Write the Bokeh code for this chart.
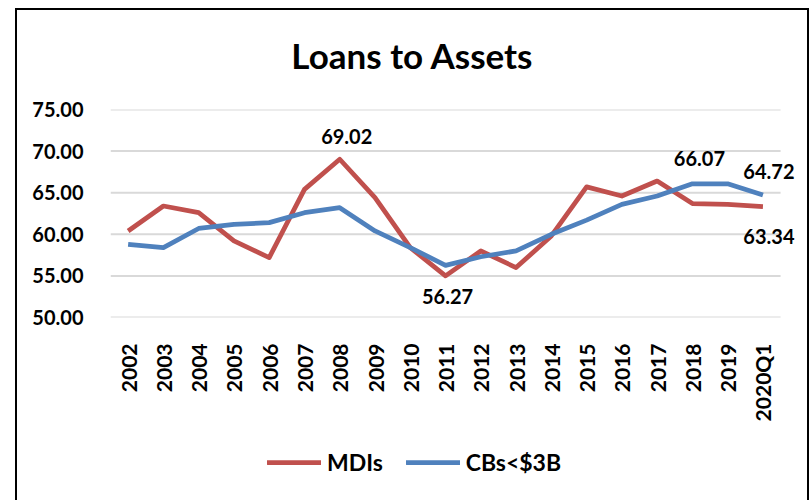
from bokeh.plotting import figure
from bokeh.layouts import column
from bokeh.models import (Range1d, Legend, LegendItem, LabelSet, Label, ColumnDataSource,
                          NumeralTickFormatter, FixedTicker)
from bokeh.core.properties import value
from bokeh.embed import file_html
from bokeh.resources import INLINE
import math

title_text = "Loans to Assets"
years = ["2002", "2003", "2004", "2005", "2006", "2007", "2008", "2009", "2010", "2011",
         "2012", "2013", "2014", "2015", "2016", "2017", "2018", "2019", "2020Q1"]
mdis = [60.4, 63.4, 62.6, 59.2, 57.2, 65.4, 69.02, 64.4, 58.4, 55.0,
        58.0, 56.0, 59.8, 65.7, 64.6, 66.4, 63.7, 63.6, 63.34]
cbs = [58.8, 58.4, 60.7, 61.2, 61.4, 62.6, 63.2, 60.4, 58.4, 56.27,
       57.3, 58.0, 60.0, 61.7, 63.6, 64.6, 66.07, 66.07, 64.72]
y_ticks = [50, 55, 60, 65, 70, 75]

RED = "#C0504D"
BLUE = "#4F81BD"
FONT = "Lato"

xs = list(range(len(years)))


def blank(fig):
    fig.outline_line_color = None
    fig.xgrid.grid_line_color = None
    fig.ygrid.grid_line_color = None


# title strip
p0 = figure(x_range=Range1d(0, 693), y_range=Range1d(0, 60),
            width=790, height=60, output_backend="svg", toolbar_location=None,
            x_axis_type=None, y_axis_type=None,
            min_border_left=93, min_border_right=4, min_border_top=0, min_border_bottom=0)
blank(p0)
p0.add_layout(Label(x=302, y=15.5, text=title_text, text_align="center", text_baseline="middle",
                    text_font=FONT, text_font_style="bold", text_font_size="35px",
                    text_color="black"))

# main chart
p = figure(x_range=Range1d(-0.5, len(years) + 0.15), y_range=Range1d(y_ticks[0], y_ticks[-1]),
           width=790, height=370, output_backend="svg", toolbar_location=None,
           min_border_left=93, min_border_right=4, min_border_top=39, min_border_bottom=123)
blank(p)
# horizontal gridlines spanning only the category area
p.segment(x0=[-0.5] * len(y_ticks), x1=[len(years) - 0.5] * len(y_ticks), y0=y_ticks, y1=y_ticks,
          line_color="#D9D9D9", line_width=2)

p.yaxis.ticker = FixedTicker(ticks=y_ticks)
p.yaxis.formatter = NumeralTickFormatter(format="0.00")
p.xaxis.ticker = FixedTicker(ticks=xs)
p.xaxis.major_label_overrides = {i: y for i, y in zip(xs, years)}
for ax in (p.xaxis, p.yaxis):
    ax.axis_line_color = None
    ax.major_tick_line_color = None
    ax.minor_tick_line_color = None
    ax.major_label_text_font = FONT
    ax.major_label_text_font_style = "bold"
    ax.major_label_text_color = "black"
p.yaxis.major_label_text_font_size = "20px"
p.xaxis.major_label_text_font_size = "21px"
p.yaxis.major_label_standoff = 21
p.xaxis.major_label_orientation = math.pi / 2
p.xaxis.major_label_standoff = 20

p.line(xs, mdis, line_color=RED, line_width=4.75, line_join="round")
p.line(xs, cbs, line_color=BLUE, line_width=4.75, line_join="round")

lab_x = [xs[6], xs[9], xs[16], xs[18], xs[18]]
lab_y = [mdis[6], cbs[9], cbs[16], cbs[18], mdis[18]]
lab_t = [f"{v:.2f}" for v in lab_y]
lab_dy = [23, -31, 25, 24, -30]
lab_dx = [7, 2, 7, 6, 6]
src = ColumnDataSource(dict(x=lab_x, y=lab_y, t=lab_t, dy=lab_dy, dx=lab_dx))
labels = LabelSet(x="x", y="y", text="t", source=src, y_offset="dy", x_offset="dx",
                  text_align="center", text_baseline="middle",
                  text_font=value(FONT), text_font_style="bold", text_font_size="20px",
                  text_color="black")
p.add_layout(labels)

# legend strip below the chart
p2 = figure(x_range=Range1d(-0.5, len(years) + 0.15), y_range=Range1d(0, 1),
            width=790, height=60, output_backend="svg", toolbar_location=None,
            x_axis_type=None, y_axis_type=None,
            min_border_left=93, min_border_right=4, min_border_top=0, min_border_bottom=0)
blank(p2)
l1 = p2.line(xs, mdis, line_color=RED, line_width=4.75, line_cap="round")
l2 = p2.line(xs, cbs, line_color=BLUE, line_width=4.75, line_cap="round")

legend = Legend(items=[LegendItem(label="MDIs", renderers=[l1]),
                       LegendItem(label="CBs<$3B", renderers=[l2])],
                orientation="horizontal", location=(157, 24),
                label_text_font=FONT, label_text_font_style="bold", label_text_font_size="23px",
                label_text_color="black",
                glyph_width=54, glyph_height=20, label_height=20, label_standoff=6, spacing=23,
                border_line_color=None, background_fill_alpha=0, margin=0, padding=0)
p2.add_layout(legend)

layout = column(p0, p, p2, spacing=0)
layout.styles = {"border-left": "2px solid black", "border-top": "2px solid black",
                 "border-right": "2px solid black", "margin-left": "15px", "margin-top": "8px"}

open("out.html", "w").write(file_html(layout, INLINE))
